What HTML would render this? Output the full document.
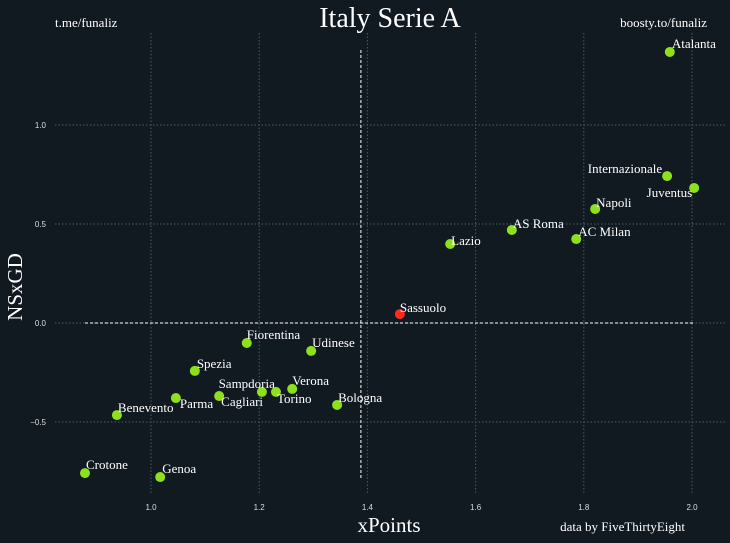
<!DOCTYPE html>
<html><head><meta charset="utf-8"><style>
html,body{margin:0;padding:0;background:#111921;}
svg{display:block;}
</style></head><body>
<svg id="chart" width="730" height="543" xmlns="http://www.w3.org/2000/svg">
<rect width="730" height="543" fill="#111921"/>
<g id="grid"></g>
<g id="refs"></g>
<g id="pts"></g>
<g id="ticks"></g>
<text x="390" y="27" text-anchor="middle" font-family="Liberation Serif, serif" font-size="28" fill="#ffffff">Italy Serie A</text>
<text x="55" y="27" font-family="Liberation Serif, serif" font-size="13" fill="#ffffff">t.me/funaliz</text>
<text x="707" y="27" text-anchor="end" font-family="Liberation Serif, serif" font-size="13" fill="#ffffff">boosty.to/funaliz</text>
<text x="389" y="532" text-anchor="middle" font-family="Liberation Serif, serif" font-size="21" fill="#ffffff">xPoints</text>
<text x="22" y="287" text-anchor="middle" font-family="Liberation Serif, serif" font-size="21" fill="#ffffff" transform="rotate(-90 22 287)">NSxGD</text>
<text x="685" y="531" text-anchor="end" font-family="Liberation Serif, serif" font-size="13" fill="#ffffff">data by FiveThirtyEight</text>
</svg>
<script>
const teams=["Atalanta","Internazionale","Juventus","Napoli","AC Milan","AS Roma","Lazio","Sassuolo","Fiorentina","Udinese","Spezia","Verona","Sampdoria","Torino","Cagliari","Bologna","Parma","Benevento","Crotone","Genoa"];
const xPoints=[1.959,1.954,2.004,1.821,1.786,1.667,1.553,1.460,1.177,1.296,1.081,1.261,1.205,1.231,1.126,1.344,1.046,0.937,0.878,1.017];
const nsxgd=[1.369,0.742,0.682,0.576,0.424,0.470,0.399,0.045,-0.101,-0.141,-0.242,-0.333,-0.348,-0.348,-0.369,-0.414,-0.379,-0.465,-0.758,-0.778];
const xTicks=[1.0,1.2,1.4,1.6,1.8,2.0];
const yTicks=[-0.5,0.0,0.5,1.0];
const meanX=1.388, meanY=0.0;
const labelAnchor=["start","end","end","start","start","start","start","start","start","start","start","start","end","start","start","start","start","start","start","start"];
const labelDx=[2,-5,-2,1,2,1,1,0,0,1,2,0,13,1,2,1,4,1,1,2];
const labelDy=[-4,-3,9,-2,-3,-2,1,-2,-4,-4,-3,-4,-4,11,10,-3,10,-3,-4,-4];
const NS="http://www.w3.org/2000/svg";
const sx=v=>151+(v-1)*541, sy=v=>323-v*198;
function mk(tag,attrs,parent){const e=document.createElementNS(NS,tag);for(const k in attrs)e.setAttribute(k,attrs[k]);parent.appendChild(e);return e;}
const grid=document.getElementById('grid'),ticks=document.getElementById('ticks'),refs=document.getElementById('refs'),pts=document.getElementById('pts');
xTicks.forEach(t=>{
 const l=mk('line',{x1:sx(t),x2:sx(t),y1:33,y2:495,stroke:'#4a5a66','stroke-width':1,'stroke-dasharray':'1.5,2'},grid);
 
 
 const tx=mk('text',{x:sx(t),y:510,'text-anchor':'middle','font-family':'Liberation Sans, sans-serif','font-size':8,fill:'#dddddd'},ticks);
 tx.textContent=t.toFixed(1);
 
 
});
yTicks.forEach(t=>{
 const l=mk('line',{x1:55,x2:725,y1:sy(t),y2:sy(t),stroke:'#4a5a66','stroke-width':1,'stroke-dasharray':'1.5,2'},grid);
 
 
 const tx=mk('text',{x:46,y:sy(t)+3,'text-anchor':'end','font-family':'Liberation Sans, sans-serif','font-size':8,fill:'#dddddd'},ticks);
 tx.textContent=t===0?'0.0':(t<0?'\u2212'+Math.abs(t).toFixed(1):t.toFixed(1));
 
 
});
const vl=mk('line',{x1:sx(meanX),x2:sx(meanX),y1:50,y2:478,stroke:'#ffffff','stroke-width':1,'stroke-dasharray':'3,2'},refs);


const hl=mk('line',{x1:85,x2:695,y1:sy(meanY),y2:sy(meanY),stroke:'#ffffff','stroke-width':1,'stroke-dasharray':'3,2'},refs);


teams.forEach((n,i)=>{
 const cx=sx(xPoints[i]),cy=sy(nsxgd[i]);
 const c=mk('circle',{cx:cx,cy:cy,r:5,fill:n==='Sassuolo'?'#ff2a1f':'#8fe01c'},pts);
 
 
 const t=mk('text',{x:cx+labelDx[i],y:cy+labelDy[i],'text-anchor':labelAnchor[i],'font-family':'Liberation Serif, serif','font-size':13,fill:'#ffffff'},pts);
 t.textContent=n;
 
 
});
</script>
</body></html>
